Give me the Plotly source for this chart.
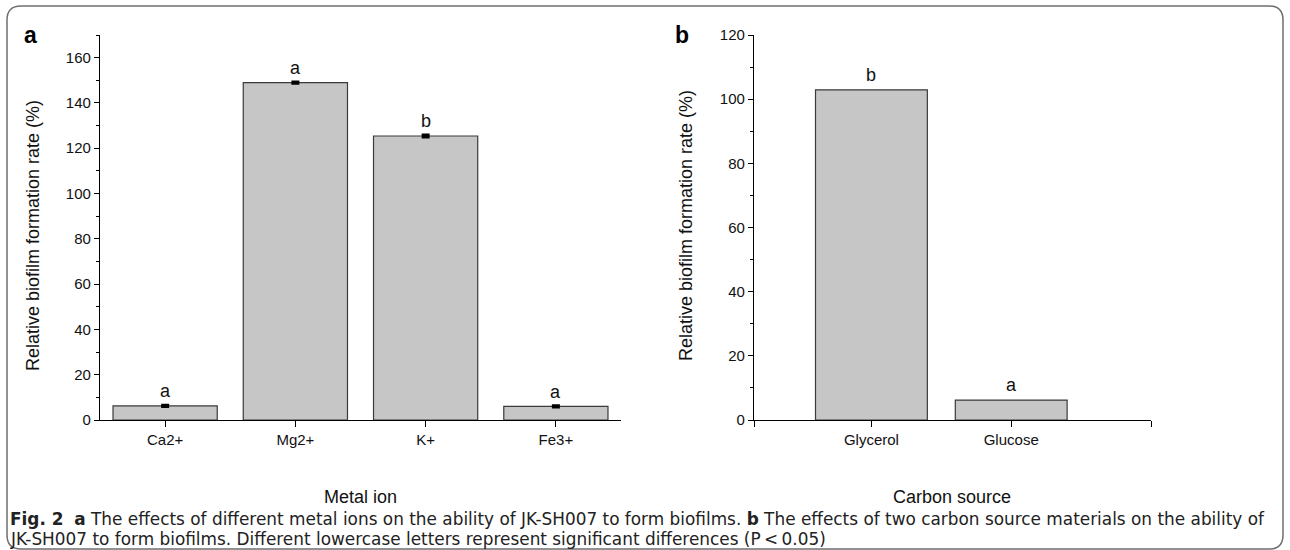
import plotly.graph_objects as go

W, H = 1290, 550

# ---- data ----
metal_ions = ["Ca2+", "Mg2+", "K+", "Fe3+"]
metal_values = [6.2, 149.0, 125.4, 6.0]
metal_errors = [0.4, 0.4, 0.5, 0.4]
metal_letters = ["a", "a", "b", "a"]

carbon_sources = ["Glycerol", "Glucose"]
carbon_values = [102.9, 6.2]
carbon_letters = ["b", "a"]

# ---- helpers (pixel -> paper) ----
def px(x):
    return x / W

def py(y):
    return 1 - y / H

FONT = "Liberation Sans, Arial, sans-serif"
CAP_FONT = "DejaVu Sans, sans-serif"
BAR_FILL = "#c6c6c6"
BAR_LINE = "#3a3a3a"

fig = go.Figure()

fig.add_trace(go.Bar(
    x=list(range(len(metal_ions))), y=metal_values, width=0.8,
    marker=dict(color=BAR_FILL, line=dict(color=BAR_LINE, width=1.2)),
    error_y=dict(type="data", array=metal_errors, visible=True,
                 color="black", thickness=2.5, width=4),
    xaxis="x", yaxis="y", showlegend=False, hoverinfo="skip",
))
fig.add_trace(go.Bar(
    x=list(range(len(carbon_sources))), y=carbon_values, width=0.8,
    marker=dict(color=BAR_FILL, line=dict(color=BAR_LINE, width=1.2)),
    xaxis="x2", yaxis="y2", showlegend=False, hoverinfo="skip",
))

axis_common = dict(
    showline=True, linecolor="black", linewidth=1.3, showgrid=False,
    zeroline=False, ticks="outside", tickcolor="black", tickwidth=1.2,
    automargin=False,
    tickfont=dict(family=FONT, size=15, color="#111"),
)

fig.update_layout(
    width=W, height=H,
    margin=dict(l=0, r=0, t=0, b=0, pad=0),
    paper_bgcolor="white", plot_bgcolor="white",
    bargap=0.2,
    xaxis=dict(
        domain=[px(100), px(621)], anchor="y", range=[-0.5, 3.5],
        tickvals=list(range(len(metal_ions))), ticktext=metal_ions,
        ticklen=6, **axis_common,
    ),
    yaxis=dict(
        domain=[py(420), py(35)], anchor="x", range=[0, 170],
        tickvals=[0, 20, 40, 60, 80, 100, 120, 140, 160], ticklen=5,
        minor=dict(ticks="outside", ticklen=3, dtick=10, tickcolor="black", tickwidth=1.2),
        **axis_common,
    ),
    xaxis2=dict(
        domain=[px(754), px(1151)], anchor="y2", range=[-0.84, 2.0],
        tickvals=[-0.84] + list(range(len(carbon_sources))) + [2.0],
        ticktext=[""] + carbon_sources + [""],
        ticklen=6, **axis_common,
    ),
    yaxis2=dict(
        domain=[py(420), py(35)], anchor="x2", range=[0, 120],
        tickvals=[0, 20, 40, 60, 80, 100, 120], ticklen=5,
        minor=dict(ticks="outside", ticklen=3, dtick=10, tickcolor="black", tickwidth=1.2),
        **axis_common,
    ),
)

annotations = []
# significance letters
for i, (v, e, t) in enumerate(zip(metal_values, metal_errors, metal_letters)):
    annotations.append(dict(x=i, y=v + e, xref="x", yref="y", text=t, showarrow=False,
                            yanchor="bottom", yshift=2,
                            font=dict(family=FONT, size=18, color="#111")))
for i, (v, t) in enumerate(zip(carbon_values, carbon_letters)):
    annotations.append(dict(x=i, y=v, xref="x2", yref="y2", text=t, showarrow=False,
                            yanchor="bottom", yshift=3,
                            font=dict(family=FONT, size=18, color="#111")))

# axis titles
ytitle = "Relative biofilm formation rate (%)"
annotations.append(dict(x=px(33), y=py(236), xref="paper", yref="paper", text=ytitle,
                        textangle=-90, showarrow=False, xanchor="center", yanchor="middle",
                        font=dict(family=FONT, size=18, color="#111")))
annotations.append(dict(x=px(686), y=py(226), xref="paper", yref="paper", text=ytitle,
                        textangle=-90, showarrow=False, xanchor="center", yanchor="middle",
                        font=dict(family=FONT, size=18, color="#111")))
annotations.append(dict(x=px(360), y=py(497), xref="paper", yref="paper", text="Metal ion",
                        showarrow=False, xanchor="center", yanchor="middle",
                        font=dict(family=FONT, size=18, color="#111")))
annotations.append(dict(x=px(952), y=py(497), xref="paper", yref="paper", text="Carbon source",
                        showarrow=False, xanchor="center", yanchor="middle",
                        font=dict(family=FONT, size=18, color="#111")))

# panel labels
annotations.append(dict(x=px(30), y=py(35), xref="paper", yref="paper", text="<b>a</b>",
                        showarrow=False, xanchor="center", yanchor="middle",
                        font=dict(family=FONT, size=23, color="black")))
annotations.append(dict(x=px(682), y=py(35), xref="paper", yref="paper", text="<b>b</b>",
                        showarrow=False, xanchor="center", yanchor="middle",
                        font=dict(family=FONT, size=23, color="black")))

# caption
cap1 = ("<b>Fig. 2</b>  <b>a</b> The effects of different metal ions on the ability of JK-SH007 "
        "to form biofilms. <b>b</b> The effects of two carbon source materials on the ability of")
cap2 = ("JK-SH007 to form biofilms. Different lowercase letters represent significant "
        "differences (P\u2009<\u20090.05)")
annotations.append(dict(x=px(9), y=py(518.5), xref="paper", yref="paper", text=cap1,
                        showarrow=False, xanchor="left", yanchor="middle",
                        borderpad=0,
                        font=dict(family=CAP_FONT, size=16.9, color="#222")))
annotations.append(dict(x=px(9), y=py(539), xref="paper", yref="paper", text=cap2,
                        showarrow=False, xanchor="left", yanchor="middle",
                        borderpad=0,
                        font=dict(family=CAP_FONT, size=16.9, color="#222")))

fig.update_layout(annotations=annotations)

# rounded border
x0, y0, x1, y1, r = 7, 6, 1283, 549, 14
def P(x, y):
    return f"{px(x):.5f},{py(y):.5f}"
path = (f"M {P(x0 + r, y0)} L {P(x1 - r, y0)} Q {P(x1, y0)} {P(x1, y0 + r)} "
        f"L {P(x1, y1 - r)} Q {P(x1, y1)} {P(x1 - r, y1)} "
        f"L {P(x0 + r, y1)} Q {P(x0, y1)} {P(x0, y1 - r)} "
        f"L {P(x0, y0 + r)} Q {P(x0, y0)} {P(x0 + r, y0)} Z")
fig.add_shape(type="path", path=path, xref="paper", yref="paper",
              line=dict(color="#6e6e6e", width=1.5), layer="below")

post = ("document.body.style.margin='0';document.body.style.overflow='hidden';"
        "var d=document.getElementById('{plot_id}');"
        "d.style.position='fixed';d.style.top='0px';d.style.left='0px';")
fig.write_html("out.html", config={"displayModeBar": False}, post_script=post)
